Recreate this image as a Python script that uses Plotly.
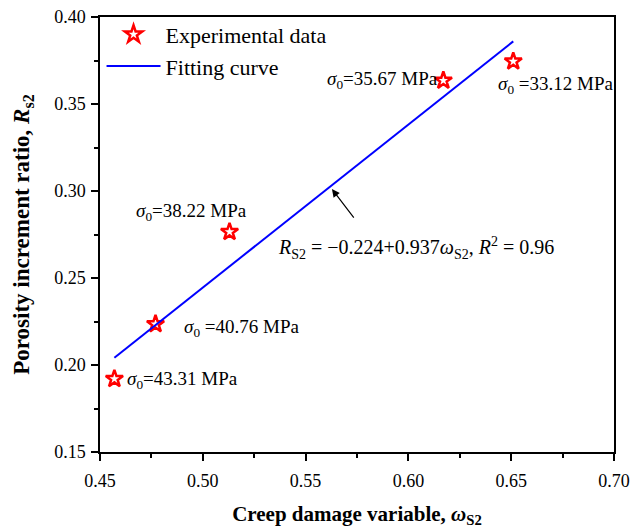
import plotly.graph_objects as go

# Data
omega = [0.457, 0.477, 0.513, 0.617, 0.651]
ratio = [0.192, 0.2235, 0.2765, 0.3635, 0.3745]
stress_labels = ["43.31", "40.76", "38.22", "35.67", "33.12"]
fit_intercept = -0.224
fit_slope = 0.937
fit_x = [0.457, 0.651]
fit_y = [fit_intercept + fit_slope * v for v in fit_x]

FONT = "Liberation Serif, Times New Roman, serif"

fig = go.Figure()
fig.add_trace(go.Scatter(
    x=omega, y=ratio, mode="markers", name="Experimental data",
    marker=dict(symbol="star-open", size=13, color="red", line=dict(color="red", width=2.5)),
))
fig.add_trace(go.Scatter(
    x=fit_x, y=fit_y, mode="lines", name="Fitting curve",
    line=dict(color="blue", width=2),
))

sig = "<i>σ</i><sub>0</sub>"
ann_font = dict(family=FONT, size=19, color="black")
annots = [
    # (x, y, text, xanchor)
    (0.4622, 0.1914, sig + "=" + stress_labels[0] + " MPa", "left"),
    (0.4899, 0.2213, sig + " =" + stress_labels[1] + " MPa", "left"),
    (0.4943, 0.2879, sig + "=" + stress_labels[2] + " MPa", "center"),
    (0.5872, 0.3638, sig + "=" + stress_labels[3] + " MPa", "center"),
    (0.6425, 0.3609, sig + " =" + stress_labels[4] + " MPa", "left"),
]
for x, y, t, xa in annots:
    fig.add_annotation(x=x, y=y, text=t, showarrow=False, xanchor=xa, yanchor="middle", font=ann_font)

fig.add_annotation(
    x=0.6037, y=0.2672, xanchor="center", yanchor="middle", showarrow=False,
    text="<i>R</i><sub>S2</sub> = −0.224+0.937<i>ω</i><sub>S2</sub>, <i>R</i><sup>2</sup> = 0.96",
    font=dict(family=FONT, size=20, color="black"),
)
fig.add_annotation(
    x=0.5628, y=0.3011, ax=0.5740, ay=0.2839, xref="x", yref="y", axref="x", ayref="y",
    showarrow=True, arrowhead=2, arrowsize=1.3, arrowwidth=1.2, arrowcolor="black", text="",
)

axis_common = dict(
    showgrid=False, zeroline=False, showline=True, linecolor="black", linewidth=1.5,
    mirror=True, ticks="outside", ticklen=7, tickwidth=1.5, tickcolor="black",
    tickfont=dict(family=FONT, size=18, color="black"), automargin=False,
    minor=dict(ticks="outside", ticklen=4, tickwidth=1.5, tickcolor="black", dtick=0.025),
)

fig.update_xaxes(
    range=[0.45, 0.70], dtick=0.05, tickformat=".2f", ticklabelstandoff=5,
    title=dict(text="<b>Creep damage variable, <i>ω</i><sub>S2</sub></b>",
               font=dict(family=FONT, size=21, color="black"), standoff=18),
    **axis_common,
)
fig.update_yaxes(
    range=[0.15, 0.40], dtick=0.05, tickformat=".2f", ticklabelstandoff=2,
    title=dict(text="<b>Porosity increment ratio, <i>R</i><sub>s2</sub></b>",
               font=dict(family=FONT, size=23, color="black"), standoff=18),
    **axis_common,
)

fig.update_layout(
    width=630, height=528,
    margin=dict(l=100, r=16, t=17, b=76),
    paper_bgcolor="white", plot_bgcolor="white",
    showlegend=True,
    legend=dict(x=0.003, y=1.008, xanchor="left", yanchor="top", bgcolor="rgba(0,0,0,0)",
                font=dict(family=FONT, size=22, color="black"), itemwidth=54, tracegroupgap=0),
)

fig.write_html("out.html")
